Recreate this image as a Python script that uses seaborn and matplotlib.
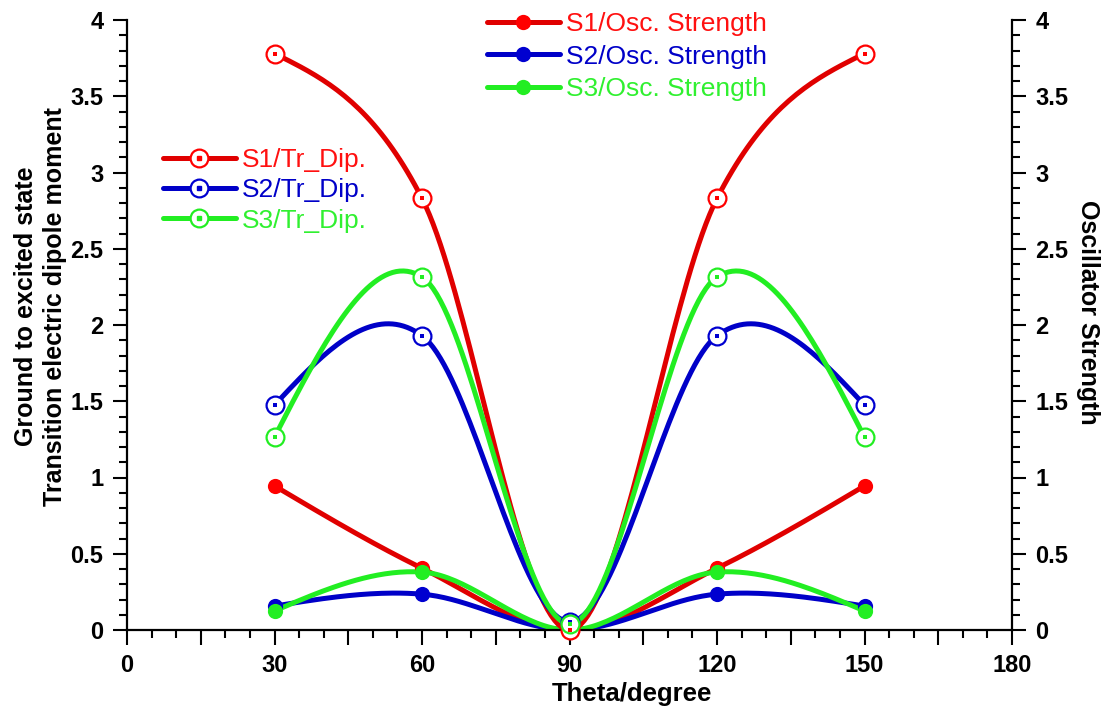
import numpy as np
import matplotlib
matplotlib.use("Agg")
import matplotlib.pyplot as plt
import seaborn as sns
from matplotlib.lines import Line2D
from matplotlib.legend_handler import HandlerTuple
from matplotlib.ticker import MultipleLocator, FuncFormatter

# Torsion angle scan (degrees)
theta = [30, 60, 90, 120, 150]

# Ground -> excited state transition electric dipole moment
s1_tr_dip = [3.78, 2.83, 0.00, 2.83, 3.78]
s2_tr_dip = [1.475, 1.93, 0.055, 1.93, 1.475]
s3_tr_dip = [1.265, 2.315, 0.04, 2.315, 1.265]

# Oscillator strength
s1_osc = [0.945, 0.405, 0.00, 0.405, 0.945]
s2_osc = [0.157, 0.235, 0.00, 0.235, 0.157]
s3_osc = [0.125, 0.38, 0.00, 0.38, 0.125]

tr_labels = ["S1/Tr_Dip.", "S2/Tr_Dip.", "S3/Tr_Dip."]
osc_labels = ["S1/Osc. Strength", "S2/Osc. Strength", "S3/Osc. Strength"]

line_colors = ["#E00000", "#0000C8", "#22EE22"]
mark_colors = ["#FF0000", "#0000D0", "#22EE22"]
text_colors = ["#FF1010", "#0000C8", "#30F030"]


def smooth(x, y, n=40):
    """Cubic Hermite curve through the points (centred tangents, relaxed ends)."""
    x = np.asarray(x, float)
    y = np.asarray(y, float)
    d = np.diff(y) / np.diff(x)
    m = np.empty_like(y)
    m[1:-1] = (y[2:] - y[:-2]) / (x[2:] - x[:-2])
    m[0] = (3 * d[0] - m[1]) / 2
    m[-1] = (3 * d[-1] - m[-2]) / 2
    xs, ys = [], []
    for i in range(len(x) - 1):
        h = x[i + 1] - x[i]
        t = np.linspace(0, 1, n, endpoint=(i == len(x) - 2))
        h00 = 2 * t**3 - 3 * t**2 + 1
        h10 = t**3 - 2 * t**2 + t
        h01 = -2 * t**3 + 3 * t**2
        h11 = t**3 - t**2
        xs.append(x[i] + h * t)
        ys.append(h00 * y[i] + h10 * h * m[i] + h01 * y[i + 1] + h11 * h * m[i + 1])
    return np.concatenate(xs), np.concatenate(ys)


sns.set_style("ticks")
plt.rcParams["font.family"] = ["Liberation Sans", "DejaVu Sans"]
plt.rcParams["font.weight"] = "bold"
plt.rcParams["axes.labelweight"] = "bold"
for key in ("text.color", "axes.labelcolor", "xtick.color", "ytick.color",
            "axes.edgecolor"):
    plt.rcParams[key] = "black"

fig = plt.figure(figsize=(11.07, 7.17), dpi=100)
ax = fig.add_axes([127 / 1107, 1 - 630 / 717, 885 / 1107, 610 / 717])
ax2 = ax.twinx()

LW = 3.6
OPEN_MS = 165
FILL_MS = 120

# Oscillator strength on the right-hand axis
for vals, lc, mc in zip([s1_osc, s2_osc, s3_osc], line_colors, mark_colors):
    xs, ys = smooth(theta, vals)
    sns.lineplot(x=xs, y=ys, ax=ax2, color=lc, linewidth=LW, sort=False,
                 estimator=None, legend=False)
for vals, lc, mc in zip([s1_osc, s2_osc, s3_osc], line_colors, mark_colors):
    sns.scatterplot(x=theta, y=vals, ax=ax2, color=mc, s=FILL_MS, linewidth=0,
                    marker="o", clip_on=False, zorder=5, legend=False)

# Transition dipole moment on the left-hand axis
for vals, lc, mc in zip([s1_tr_dip, s2_tr_dip, s3_tr_dip], line_colors, mark_colors):
    xs, ys = smooth(theta, vals)
    sns.lineplot(x=xs, y=ys, ax=ax, color=lc, linewidth=LW, sort=False,
                 estimator=None, legend=False)
for vals, lc, mc in zip([s1_tr_dip, s2_tr_dip, s3_tr_dip], line_colors, mark_colors):
    sns.scatterplot(x=theta, y=vals, ax=ax, color=mc, facecolor="white",
                    edgecolor=mc, s=OPEN_MS, linewidth=1.6, marker="o",
                    clip_on=False, zorder=5, legend=False)
    sns.scatterplot(x=theta, y=vals, ax=ax, color=mc, s=5, linewidth=0,
                    marker="s", clip_on=False, zorder=6, legend=False)

ax.set_zorder(ax2.get_zorder() + 1)
ax.patch.set_visible(False)

# Axes, ticks and spines
for a in (ax, ax2):
    a.set_xlim(0, 180)
    a.set_ylim(0, 4)
    a.yaxis.set_major_locator(MultipleLocator(0.5))
    a.yaxis.set_minor_locator(MultipleLocator(0.1))
    a.yaxis.set_major_formatter(FuncFormatter(lambda v, p: f"{v:g}"))
    a.spines["top"].set_visible(False)
    for sp in a.spines.values():
        sp.set_linewidth(1.6)
    a.tick_params(axis="y", which="major", direction="out", length=10,
                  width=1.5, labelsize=17, pad=7)
    a.tick_params(axis="y", which="minor", direction="out", length=6, width=1.5)

ax.xaxis.set_major_locator(MultipleLocator(15))
ax.xaxis.set_minor_locator(MultipleLocator(5))
ax.xaxis.set_major_formatter(FuncFormatter(lambda v, p: f"{v:g}" if v % 30 == 0 else ""))
ax.tick_params(axis="x", which="major", direction="out", length=11, width=1.5,
               labelsize=17, pad=6)
ax.tick_params(axis="x", which="minor", direction="out", length=6, width=1.5)
ax.spines["right"].set_visible(False)
ax2.spines["left"].set_visible(False)
ax2.spines["bottom"].set_visible(False)

ax.set_xlabel("Theta/degree", fontsize=18.5, fontweight="bold")
ax.xaxis.set_label_coords(0.570, -0.085)
ax.set_ylabel("Ground to excited state\nTransition electric dipole moment",
              fontsize=18, fontweight="bold", linespacing=1.25)
ax.yaxis.set_label_coords(-0.068, 0.53)
ax2.set_ylabel("Oscillator Strength", fontsize=18, fontweight="bold",
               rotation=270, va="bottom")
ax2.yaxis.set_label_coords(1.072, 0.52)


def legend_handles(filled):
    handles = []
    for lc, mc in zip(line_colors, mark_colors):
        if filled:
            h = Line2D([], [], color=lc, lw=LW, marker="o", ms=11, mfc=mc,
                       mec=mc, mew=0)
            handles.append(h)
        else:
            ring = Line2D([], [], color=lc, lw=LW, marker="o", ms=12.8,
                          mfc="white", mec=mc, mew=1.6)
            dot = Line2D([], [], ls="none", marker="s", ms=2.2, color=mc)
            handles.append((ring, dot))
    return handles


leg_kw = dict(frameon=False, prop={"weight": "normal", "size": 19},
              handlelength=2.75, handletextpad=0.25,
              borderpad=0, borderaxespad=0, loc="upper left",
              bbox_transform=fig.transFigure,
              handler_map={tuple: HandlerTuple(ndivide=1)})

leg1 = ax.legend(legend_handles(False), tr_labels, labelspacing=0.24,
                 bbox_to_anchor=(163 / 1107, 1 - 148 / 717), **leg_kw)
for t, c in zip(leg1.get_texts(), text_colors):
    t.set_color(c)

leg2 = ax2.legend(legend_handles(True), osc_labels, labelspacing=0.33,
                  bbox_to_anchor=(487 / 1107, 1 - 12 / 717), **leg_kw)
for t, c in zip(leg2.get_texts(), text_colors):
    t.set_color(c)

fig.savefig("out.png", dpi=100)
